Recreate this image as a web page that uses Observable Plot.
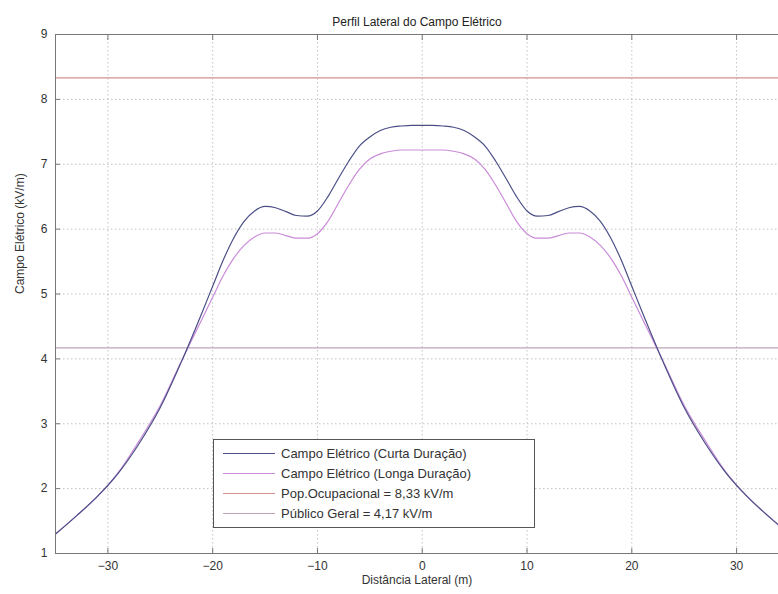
<!DOCTYPE html>
<html>
<head>
<meta charset="utf-8">
<script src="https://cdn.jsdelivr.net/npm/d3@7"></script>
<script src="https://cdn.jsdelivr.net/npm/@observablehq/plot@0.6"></script>
<style>
  body { margin: 0; background: #fff; font-family: "Liberation Sans", Arial, sans-serif; }
  #wrap { position: relative; width: 778px; height: 594px; }
  #legend { position: absolute; left: 213px; top: 439px; width: 322px; height: 89px;
    border: 1px solid #555; background: #fff; box-sizing: border-box; padding-top: 3px; }
  .row { display: flex; align-items: center; height: 20px; font-size: 13px; color: #333; }
  .sw { display: inline-block; width: 52px; height: 1px; margin-left: 9px; margin-right: 6px; }
</style>
</head>
<body>
<div id="wrap"></div>
<script>
const title = "Perfil Lateral do Campo Elétrico";
const xLabel = "Distância Lateral (m)";
const yLabel = "Campo Elétrico (kV/m)";
const xTicks = [-30, -20, -10, 0, 10, 20, 30];
const yTicks = [1, 2, 3, 4, 5, 6, 7, 8, 9];
const yTickLabels = ["1", "2", "3", "4", "5", "6", "7", "8", "9"];

const distance = [-35, -33, -31, -29, -27, -25, -23, -21, -20, -19, -18, -17, -16, -15, -14, -13, -12, -11, -10, -9, -8, -7, -6, -5, -4, -3, -2, -1, 0,
  1, 2, 3, 4, 5, 6, 7, 8, 9, 10, 11, 12, 13, 14, 15, 16, 17, 18, 19, 20, 21, 23, 25, 27, 29, 31, 33, 34];
const curta = [1.30, 1.58, 1.88, 2.24, 2.70, 3.25, 3.95, 4.72, 5.12, 5.52, 5.86, 6.12, 6.28, 6.35, 6.33, 6.27, 6.21, 6.20, 6.28, 6.50, 6.78, 7.05, 7.28, 7.42, 7.52, 7.57, 7.59, 7.60, 7.60,
  7.60, 7.59, 7.57, 7.52, 7.42, 7.28, 7.05, 6.78, 6.50, 6.28, 6.20, 6.21, 6.27, 6.33, 6.35, 6.28, 6.12, 5.86, 5.52, 5.12, 4.72, 3.95, 3.25, 2.70, 2.24, 1.88, 1.58, 1.44];
const longa = [1.30, 1.58, 1.88, 2.25, 2.74, 3.28, 3.96, 4.62, 4.95, 5.28, 5.55, 5.75, 5.88, 5.94, 5.94, 5.90, 5.86, 5.86, 5.93, 6.12, 6.40, 6.68, 6.92, 7.08, 7.16, 7.20, 7.22, 7.22, 7.22,
  7.22, 7.22, 7.20, 7.16, 7.08, 6.92, 6.68, 6.40, 6.12, 5.93, 5.86, 5.86, 5.90, 5.94, 5.94, 5.88, 5.75, 5.55, 5.28, 4.95, 4.62, 3.96, 3.28, 2.74, 2.25, 1.88, 1.58, 1.44];
const limits = [8.33, 4.17];
const seriesNames = ["Campo Elétrico (Curta Duração)", "Campo Elétrico (Longa Duração)", "Pop.Ocupacional = 8,33 kV/m", "Público Geral = 4,17 kV/m"];
const colors = ["#4b4f86", "#c98bd8", "#d49090", "#bca3b8"];

const curtaData = distance.map((d, i) => ({x: d, y: curta[i]}));
const longaData = distance.map((d, i) => ({x: d, y: longa[i]}));

const font = "'Liberation Sans', Arial, sans-serif";
const chart = Plot.plot({
  width: 778, height: 594,
  marginLeft: 55, marginRight: 0, marginTop: 34, marginBottom: 41,
  style: {fontFamily: font, fontSize: "12px", color: "#333", background: "#fff"},
  x: {domain: [-35, 34]},
  y: {domain: [1, 9]},
  marks: [
    Plot.gridX(xTicks, {stroke: "#999", strokeOpacity: 0.6, strokeDasharray: "1.5,2.5"}),
    Plot.gridY(yTicks, {stroke: "#999", strokeOpacity: 0.6, strokeDasharray: "1.5,2.5"}),
    Plot.ruleY([limits[0]], {stroke: colors[2], strokeWidth: 1.3}),
    Plot.ruleY([limits[1]], {stroke: colors[3], strokeWidth: 1.3}),
    Plot.line(longaData, {x: "x", y: "y", stroke: colors[1], strokeWidth: 1.2, curve: "monotone-x"}),
    Plot.line(curtaData, {x: "x", y: "y", stroke: colors[0], strokeWidth: 1.2, curve: "monotone-x"}),
    Plot.frame({stroke: "#777", strokeWidth: 1}),
    Plot.axisX({ticks: xTicks, tickSize: -5, tickPadding: 13, stroke: "#777", fontSize: 12, label: null}),
    Plot.axisX({ticks: xTicks, anchor: "top", tickSize: -5, tickFormat: () => "", stroke: "#777", label: null}),
    Plot.axisY({ticks: yTicks, tickSize: -5, tickPadding: 13, stroke: "#777", fontSize: 12,
      tickFormat: (d) => yTickLabels[yTicks.indexOf(d)], label: null}),
    Plot.text([title], {frameAnchor: "top", dy: -17, fontSize: 12, fill: "#222"}),
    Plot.text([xLabel], {frameAnchor: "bottom", dy: 30, fontSize: 12, fill: "#333"}),
    Plot.text([yLabel], {frameAnchor: "left", dx: -35, rotate: -90, fontSize: 12, fill: "#333"})
  ]
});
const wrap = document.getElementById("wrap");
wrap.appendChild(chart);

const legend = document.createElement("div");
legend.id = "legend";
seriesNames.forEach((name, i) => {
  const row = document.createElement("div");
  row.className = "row";
  const sw = document.createElement("span");
  sw.className = "sw";
  sw.style.background = colors[i];
  const t = document.createElement("span");
  t.textContent = name;
  row.appendChild(sw);
  row.appendChild(t);
  legend.appendChild(row);
});
wrap.appendChild(legend);
</script>
</body>
</html>
